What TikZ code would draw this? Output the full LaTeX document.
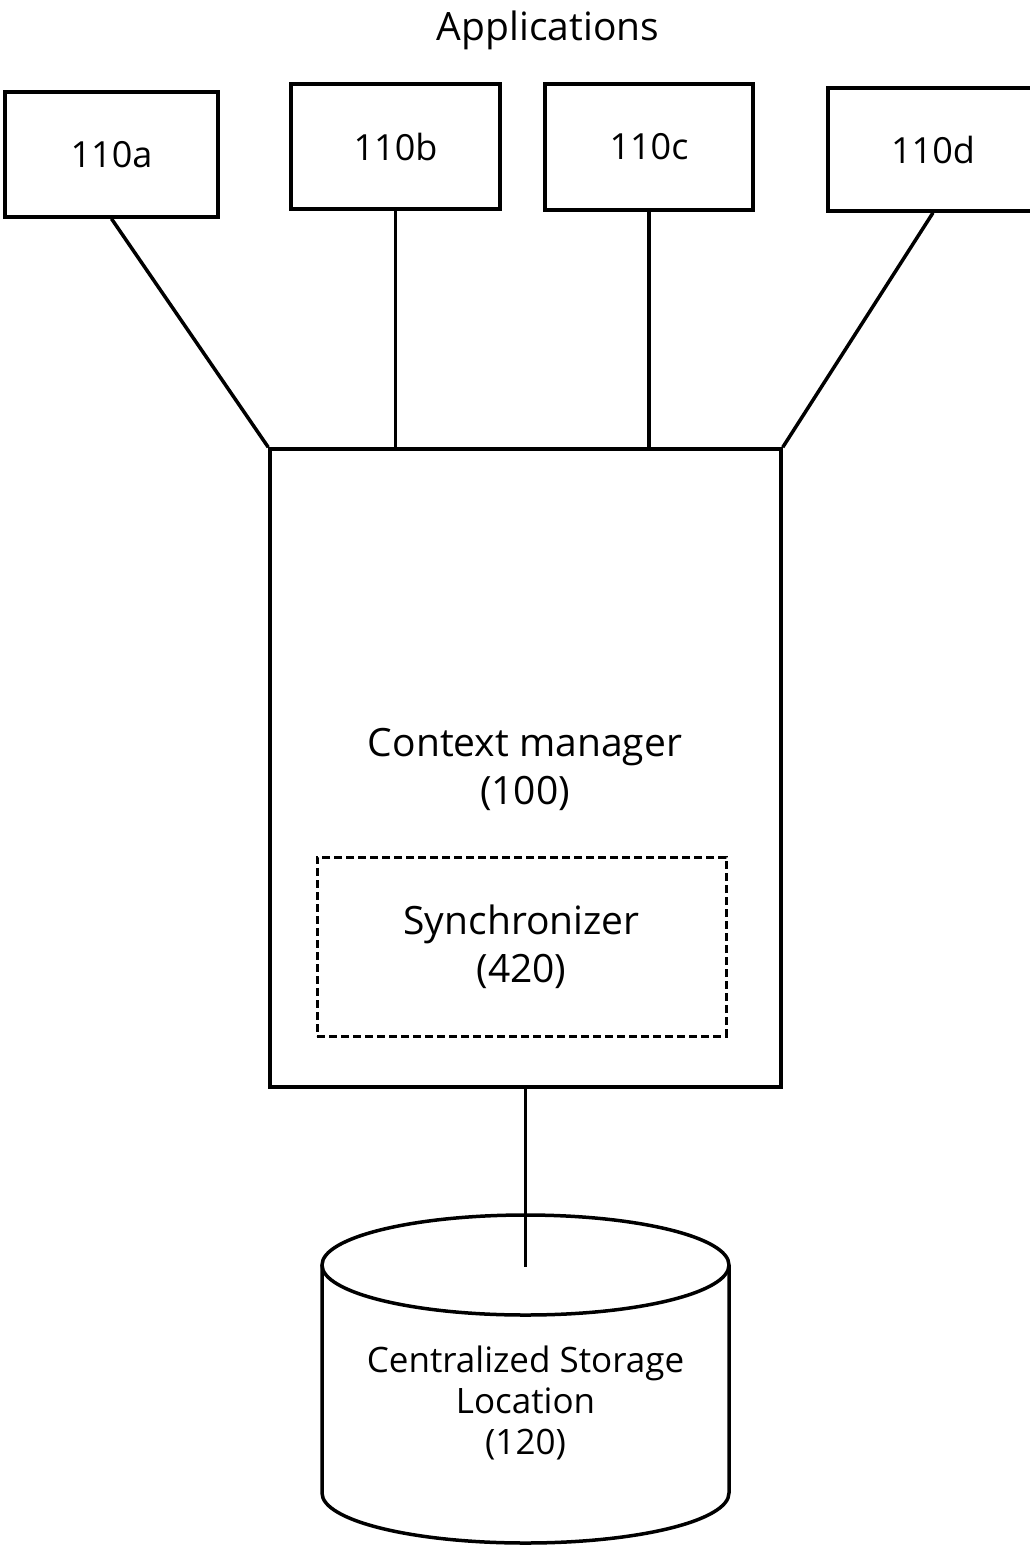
\documentclass[tikz,border=0pt]{standalone}
\usepackage{fontspec}
\setmainfont{Open Sans}
\begin{document}
\begin{tikzpicture}[x=1pt,y=-1pt,
  every node/.style={font=\fontsize{39}{48}\selectfont, align=center},
  applabel/.style={font=\fontsize{36}{44}\selectfont},
  storelabel/.style={font=\fontsize{35}{41}\selectfont},
  appbox/.style={draw, line width=3.5pt, inner sep=0pt},
  conn/.style={line width=3.5pt},
  dashbox/.style={draw, line width=3pt, dash pattern=on 8pt off 4pt, inner sep=0pt}]
\useasboundingbox (0,0) rectangle (1029,1545);
\node (title) at (548,30) {Applications};
\node[appbox, applabel, minimum width=213pt, minimum height=125pt] (a) at (111.5,154.5) {110a};
\node[appbox, applabel, minimum width=209pt, minimum height=125pt] (b) at (395.5,146.5) {110b};
\node[appbox, applabel, minimum width=208pt, minimum height=126pt] (c) at (649,147) {110c};
\node[appbox, applabel, minimum width=210pt, minimum height=123pt] (d) at (933,149.5) {110d};
\node[appbox, minimum width=511pt, minimum height=638pt] (cm) at (525.5,768) {};
\node (cmtext) at (525,769) {Context manager\\(100)};
\node[dashbox, minimum width=409pt, minimum height=179pt] (sync) at (521.5,946.5) {Synchronizer\\(420)};
\draw[conn] (a.south) -- (cm.north west);
\draw[conn] (b.south) -- (b.south |- cm.north);
\draw[conn] (c.south) -- (c.south |- cm.north);
\draw[conn] (d.south) -- (cm.north east);
% cylinder
\draw[conn] (322,1265) -- (322,1493) arc[start angle=180, end angle=0, x radius=203.5, y radius=50] -- (729,1265);
\draw[conn] (525.5,1265) ellipse[x radius=203.5, y radius=50];
\coordinate (cyltop) at (525.5,1267);
\node[storelabel] (store) at (525.5,1403) {Centralized Storage\\Location\\(120)};
\draw[conn] (cm.south -| cyltop) -- (cyltop);
\end{tikzpicture}
\end{document}
